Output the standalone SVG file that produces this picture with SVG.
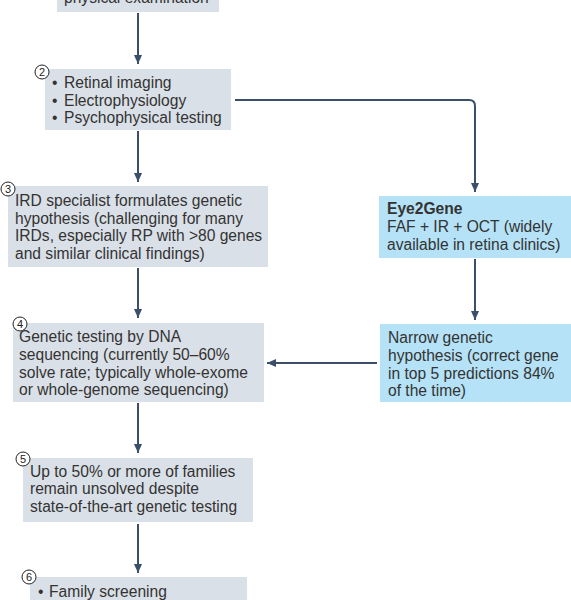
<svg xmlns="http://www.w3.org/2000/svg" width="571" height="600" viewBox="0 0 571 600">
<defs>
<style>
.g{fill:#dae0e7}
.b{fill:#b5e2f6}
.t{font-family:"Liberation Sans",Arial,sans-serif;font-size:15.6px;fill:#333}
.bold{font-weight:bold}
.n{fill:#fff;stroke:#222;stroke-width:1}
.nt{font-family:"Liberation Sans",Arial,sans-serif;font-size:11px;fill:#222;text-anchor:middle}
.c{fill:none;stroke:#3b4f6b;stroke-width:2}
</style>
<marker id="ah" markerUnits="userSpaceOnUse" markerWidth="10" markerHeight="10" viewBox="0 0 10 10" refX="9" refY="5" orient="auto">
<path d="M0,1 L9,5 L0,9 Z" fill="#3b4f6b"/>
</marker>
</defs>
<rect width="571" height="600" fill="#fff"/>
<g id="connectors">
<line class="c" x1="138" y1="13" x2="138" y2="64" marker-end="url(#ah)"/>
<path class="c" d="M235,100 H469 Q475,100 475,106 V192" marker-end="url(#ah)"/>
<line class="c" x1="138" y1="131" x2="138" y2="182" marker-end="url(#ah)"/>
<line class="c" x1="138" y1="268" x2="138" y2="318" marker-end="url(#ah)"/>
<line class="c" x1="475" y1="259" x2="475" y2="320" marker-end="url(#ah)"/>
<line class="c" x1="377" y1="363" x2="267" y2="363" marker-end="url(#ah)"/>
<line class="c" x1="138" y1="403" x2="138" y2="453" marker-end="url(#ah)"/>
<line class="c" x1="138" y1="524" x2="138" y2="573" marker-end="url(#ah)"/>
</g>
<g id="node1">
<rect class="g" x="57" y="-20" width="162" height="32"/>
<text class="t" x="64" y="2.5">physical examination</text>
</g>
<g id="node2">
<rect class="g" x="45" y="69" width="186" height="61"/>
<circle class="n" cx="42" cy="72" r="7"/>
<text class="nt" x="42" y="76">2</text>
<text class="t" x="52" y="88.3">•</text><text class="t" x="64" y="88.3">Retinal imaging</text>
<text class="t" x="52" y="105.8">•</text><text class="t" x="64" y="105.8">Electrophysiology</text>
<text class="t" x="52" y="123.3">•</text><text class="t" x="64" y="123.3">Psychophysical testing</text>
</g>
<g id="node3">
<rect class="g" x="8" y="186" width="260" height="81"/>
<circle class="n" cx="8" cy="189" r="7"/>
<text class="nt" x="8" y="193">3</text>
<text class="t" x="15" y="206">IRD specialist formulates genetic</text>
<text class="t" x="15" y="223.5">hypothesis (challenging for many</text>
<text class="t" x="15" y="241">IRDs, especially RP with &gt;80 genes</text>
<text class="t" x="15" y="258.5">and similar clinical findings)</text>
</g>
<g id="eye2gene">
<rect class="b" x="379" y="196" width="192" height="62"/>
<text class="t bold" x="387" y="214.3">Eye2Gene</text>
<text class="t" x="387" y="232">FAF + IR + OCT (widely</text>
<text class="t" x="387" y="249.5">available in retina clinics)</text>
</g>
<g id="narrow">
<rect class="b" x="380" y="324" width="191" height="78"/>
<text class="t" x="388" y="343.3">Narrow genetic</text>
<text class="t" x="388" y="361">hypothesis (correct gene</text>
<text class="t" x="388" y="378.7">in top 5 predictions 84%</text>
<text class="t" x="388" y="396.3">of the time)</text>
</g>
<g id="node4">
<rect class="g" x="13" y="323" width="251" height="79"/>
<circle class="n" cx="20" cy="324" r="7"/>
<text class="nt" x="20" y="328">4</text>
<text class="t" x="19" y="342.3">Genetic testing by DNA</text>
<text class="t" x="19" y="360">sequencing (currently 50–60%</text>
<text class="t" x="19" y="377.7">solve rate; typically whole-exome</text>
<text class="t" x="19" y="395.3">or whole-genome sequencing)</text>
</g>
<g id="node5">
<rect class="g" x="23" y="458" width="230" height="64"/>
<circle class="n" cx="23" cy="459" r="7"/>
<text class="nt" x="23" y="463">5</text>
<text class="t" x="30" y="476.7">Up to 50% or more of families</text>
<text class="t" x="30" y="494.4">remain unsolved despite</text>
<text class="t" x="30" y="512.1">state-of-the-art genetic testing</text>
</g>
<g id="node6">
<rect class="g" x="30" y="577" width="217" height="40"/>
<circle class="n" cx="29" cy="577" r="7"/>
<text class="nt" x="29" y="581">6</text>
<text class="t" x="38" y="596.7">•</text><text class="t" x="49" y="596.7">Family screening</text>
</g>
</svg>
